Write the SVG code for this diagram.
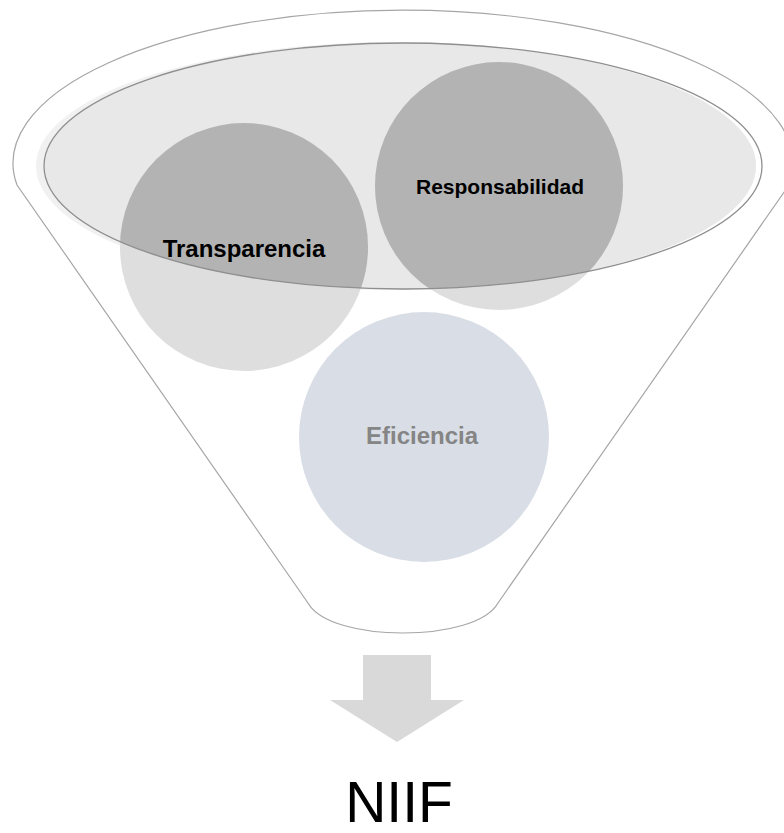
<svg xmlns="http://www.w3.org/2000/svg" width="784" height="833" viewBox="0 0 784 833">
<style>
.lbl{font-family:"Liberation Sans",Arial,sans-serif;font-weight:bold;text-anchor:middle}
.dark{fill:#b3b3b3}
.light{fill:#dedede}
</style>
<defs>
<clipPath id="inEll"><ellipse cx="403" cy="166" rx="359" ry="123"/></clipPath>
<clipPath id="fillEll"><ellipse cx="396" cy="166" rx="360" ry="124"/></clipPath>
</defs>
<rect width="784" height="833" fill="#ffffff"/>
<g id="funnel">
<path d="M 17,185 A 390 153 0 1 1 789,185 L 498,603 C 476,643 330,643 308,603 Z" fill="#ffffff" stroke="#a6a6a6" stroke-width="1.2"/>
<ellipse cx="396" cy="166" rx="360" ry="124" fill="#f1f1f1"/>
<ellipse cx="403" cy="166" rx="359" ry="123" fill="#e8e8e8" clip-path="url(#fillEll)"/>
</g>
<g id="transparencia">
<circle class="light" cx="244" cy="247" r="124"/>
<circle class="dark" cx="244" cy="247" r="124" clip-path="url(#inEll)"/>
</g>
<g id="responsabilidad">
<circle class="light" cx="499" cy="186" r="124"/>
<circle class="dark" cx="499" cy="186" r="124" clip-path="url(#inEll)"/>
</g>
<g id="ellipse-outline">
<ellipse cx="403" cy="166" rx="359" ry="123" fill="none" stroke="#8f8f8f" stroke-width="1.3"/>
</g>
<g id="eficiencia">
<circle cx="424" cy="437" r="125" fill="#d9dee6"/>
<text class="lbl" x="422" y="444" font-size="24" fill="#858585">Eficiencia</text>
</g>
<g id="labels">
<text class="lbl" x="244" y="257" font-size="24" fill="#000000">Transparencia</text>
<text class="lbl" x="500" y="194" font-size="21" fill="#000000">Responsabilidad</text>
</g>
<g id="connectors">
<path d="M 363,655 L 431,655 L 431,700 L 464,700 L 397,742 L 330,700 L 363,700 Z" fill="#d9d9d9"/>
</g>
<g id="niif">
<text x="399" y="822" font-family="'Liberation Sans',Arial,sans-serif" font-size="57" text-anchor="middle" fill="#000000">NIIF</text>
</g>
</svg>
